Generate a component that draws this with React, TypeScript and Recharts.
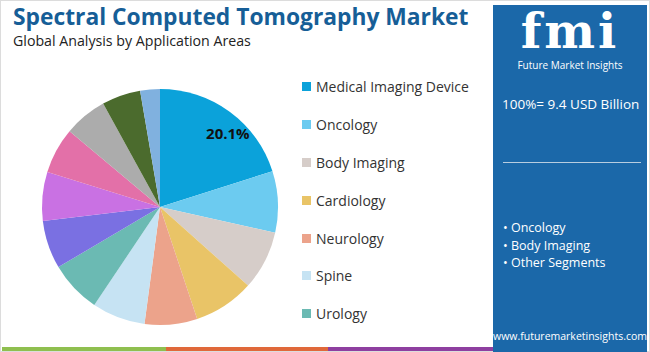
import React from 'react'
import { PieChart, Pie, Cell, Legend } from 'recharts'

// market share by application area (%), clockwise from 12 o'clock
const segments = [
  'Medical Imaging Device',
  'Oncology',
  'Body Imaging',
  'Cardiology',
  'Neurology',
  'Spine',
  'Urology',
  'Pulmonology',
  'Gastroenterology',
  'Musculoskeletal',
  'Dental',
  'Vascular',
  'Others',
]
const shares = [20.1, 8.4, 8.1, 8.3, 7.2, 7.3, 7.1, 6.6, 6.7, 6.3, 5.9, 5.3, 2.7]
const colors = [
  '#0ba2da', '#6ccbf0', '#d6cdc9', '#e9c467', '#eca38b', '#c6e3f3', '#6bbab3',
  '#7a70e2', '#c971e3', '#e370a8', '#acacac', '#4b6b2d', '#80b1df',
]
const legendCount = 7
const highlights = ['Oncology', 'Body Imaging', 'Other Segments']
const totalLabel = '100%= 9.4 USD Billion'

const data = segments.map((name, i) => ({ name, value: shares[i] }))

const RAD = Math.PI / 180
const font = '"Open Sans", sans-serif'

function renderLabel(props: any) {
  if (props.index !== 0) return null
  const r = props.outerRadius * 0.85
  const a = (props.midAngle - 6.4) * RAD
  const x = props.cx + r * Math.cos(-a)
  const y = props.cy + r * Math.sin(-a)
  return (
    <text x={x} y={y} textAnchor="middle" dominantBaseline="central"
      fill="#111" fontSize={15} fontWeight={700} fontFamily={font}>
      {props.value}%
    </text>
  )
}

function renderLegend(props: any) {
  // keep the slice order, show only the first few segments
  const items = [...(props.payload || [])]
    .sort((a: any, b: any) => segments.indexOf(a.value) - segments.indexOf(b.value))
    .slice(0, legendCount)
  return (
    <div style={{ fontFamily: font }}>
      {items.map((it: any) => (
        <div key={it.value} style={{ display: 'flex', alignItems: 'center', height: 37.8 }}>
          <span style={{ width: 9, height: 9, background: it.color, marginRight: 5 }} />
          <span style={{ fontSize: 14, color: '#333' }}>{it.value}</span>
        </div>
      ))}
    </div>
  )
}

export default function App() {
  return (
    <div style={{
      position: 'absolute', top: 0, left: 0, width: 650, height: 352,
      background: '#fff', overflow: 'hidden', fontFamily: font,
    }}>
      <div style={{ position: 'absolute', inset: 0, border: '1px solid #dcdcdc', boxSizing: 'border-box' }} />
      <div style={{
        position: 'absolute', left: 13, top: 3, fontSize: 22.8, lineHeight: '28px', fontWeight: 700,
        color: '#165e97', whiteSpace: 'nowrap',
      }}>
        Spectral Computed Tomography Market
      </div>
      <div style={{ position: 'absolute', left: 13, top: 32, fontSize: 14.2, lineHeight: '18px', color: '#222', whiteSpace: 'nowrap' }}>
        Global Analysis by Application Areas
      </div>

      <div style={{ position: 'absolute', left: 0, top: 0 }}>
        <PieChart width={490} height={352} margin={{ top: 0, right: 0, bottom: 0, left: 0 }}>
          <Pie
            data={data}
            dataKey="value"
            nameKey="name"
            cx={160}
            cy={207}
            outerRadius={118}
            startAngle={90}
            endAngle={-270}
            stroke="none"
            label={renderLabel}
            labelLine={false}
            isAnimationActive={false}
          >
            {data.map((d, i) => (
              <Cell key={d.name} fill={colors[i]} />
            ))}
          </Pie>
          <Legend
            content={renderLegend}
            layout="vertical"
            wrapperStyle={{ position: 'absolute', left: 302, top: 68, width: 190 }}
          />
        </PieChart>
      </div>

      {/* bottom colour strip */}
      <div style={{ position: 'absolute', left: 2, top: 347, width: 164, height: 4, background: '#8fbf4f' }} />
      <div style={{ position: 'absolute', left: 166, top: 347, width: 162, height: 4, background: '#e0683a' }} />
      <div style={{ position: 'absolute', left: 328, top: 347, width: 165, height: 4, background: '#8e3fa0' }} />

      {/* right panel */}
      <div style={{
        position: 'absolute', left: 493, top: 5, width: 154, height: 347,
        background: '#1b68a9', color: '#fff',
      }}>
        <div style={{
          position: 'absolute', left: 0, width: 154, top: -4, textAlign: 'center',
          fontFamily: '"DejaVu Serif", serif', fontSize: 48, lineHeight: '60px', fontWeight: 700, letterSpacing: 3,
        }}>
          fmi
        </div>
        <div style={{ position: 'absolute', left: 0, width: 154, top: 53, textAlign: 'center', fontSize: 10, whiteSpace: 'nowrap' }}>
          Future Market Insights
        </div>
        <div style={{ position: 'absolute', left: 9, top: 90, fontSize: 13.5, whiteSpace: 'nowrap' }}>
          {totalLabel}
        </div>
        <div style={{ position: 'absolute', left: 10, top: 157, width: 138, height: 1, background: '#b8cde0' }} />
        <div style={{ position: 'absolute', left: 10, top: 214, fontSize: 12.5, lineHeight: '17.5px', whiteSpace: 'nowrap' }}>
          {highlights.map(h => (
            <div key={h}>• {h}</div>
          ))}
        </div>
        <div style={{ position: 'absolute', left: 0, width: 154, top: 324, textAlign: 'center', fontSize: 10.5, whiteSpace: 'nowrap' }}>
          www.futuremarketinsights.com
        </div>
      </div>
    </div>
  )
}
